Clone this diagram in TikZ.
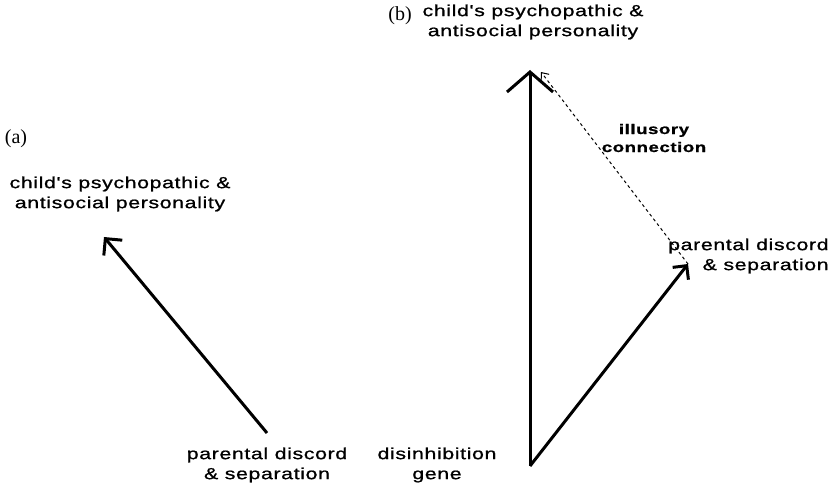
\documentclass[tikz,border=0pt]{standalone}
\usepackage{fontspec}
\setmainfont{Liberation Sans}
\newfontfamily\diagfont[FakeStretch=1.33,LetterSpace=4,FakeBold=1]{Liberation Sans}
\newfontfamily\panelfont{Liberation Serif}
\usetikzlibrary{arrows.meta}
\begin{document}
\begin{tikzpicture}[x=0.5pt,y=-0.5pt,
  lbl/.style={font=\diagfont\fontsize{8}{10}\selectfont, align=center, inner sep=0pt},
  panel/.style={font=\panelfont\fontsize{10}{12}\selectfont, inner sep=0pt},
  causal/.style={line width=1.5pt},
  illusory/.style={line width=.5pt, dash pattern=on 1.5pt off 1.5pt}]
\useasboundingbox (0,0) rectangle (834,496);
% (a) parental discord only
\node[panel] (panelA) at (16,139) {(a)};
\node[lbl] (childA) at (120,194) {child's psychopathic \&\\antisocial personality};
\node[lbl] (parentA) at (267,465) {parental discord\\\& separation};
\coordinate (tailA) at (267,433);
\coordinate (tipA) at (104,237);
\draw[causal,-{Straight Barb[length=6pt,width=12pt]}] (tailA)--(tipA);
% (b) common gene behind both
\node[panel] (panelB) at (400,16) {(b)};
\node[lbl] (childB) at (533,22) {child's psychopathic \&\\antisocial personality};
\node[lbl] (geneT) at (437,465) {disinhibition\\gene};
\node[lbl, align=right, anchor=east] (parentB) at (829,256) {parental discord\\\& separation};
\node[lbl, font=\diagfont\bfseries\fontsize{7}{9}\selectfont] (illus) at (654,138) {illusory\\connection};
\coordinate (gene) at (530,466);
\coordinate (tipB) at (530,70);
\coordinate (tipC) at (688,264);
\coordinate (tipD) at (541,72);
\draw[causal,-{Straight Barb[length=10pt,width=23pt]}] (gene)--(tipB);
\draw[causal,-{Straight Barb[length=5pt,width=10pt]}] (gene)--(tipC);
\draw[illusory,-{Straight Barb[length=3pt,width=5pt]}] (tipC)--(tipD);
\end{tikzpicture}
\end{document}
